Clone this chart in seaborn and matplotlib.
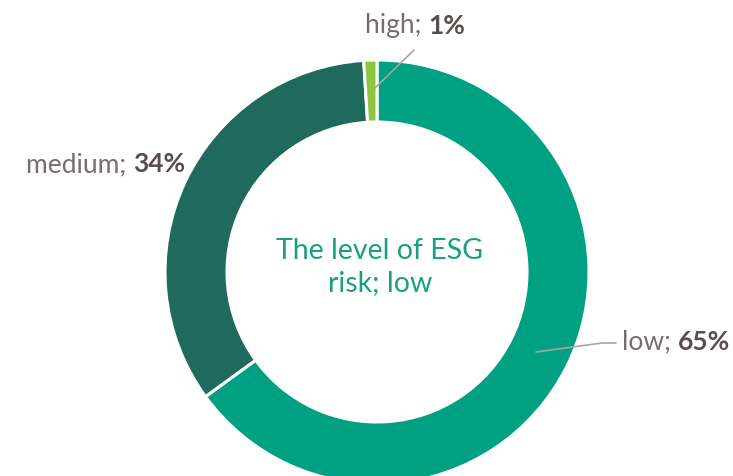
import matplotlib
matplotlib.use("Agg")
import matplotlib.pyplot as plt
import seaborn as sns
from matplotlib.offsetbox import TextArea, HPacker, AnnotationBbox

# ESG risk distribution
categories = ["low", "medium", "high"]
shares = [65, 34, 1]
colors = ["#00a082", "#1f6a5c", "#8cc63e"]
center_label = "The level of ESG\nrisk; low"

sns.set_theme(style="white")
plt.rcParams["font.family"] = ["Lato", "DejaVu Sans"]

W, H = 733, 476
fig = plt.figure(figsize=(W / 100, H / 100), dpi=100)
ax = fig.add_axes([0, 0, 1, 1])

cx, cy, r_out, width = 377, H - 272, 212, 62
ax.pie(
    shares,
    colors=colors,
    startangle=90,
    counterclock=False,
    center=(cx, cy),
    radius=r_out,
    wedgeprops=dict(width=width, edgecolor="white", linewidth=2.2),
    frame=True,
)
ax.set_xlim(0, W)
ax.set_ylim(0, H)
ax.set_aspect("equal")
ax.axis("off")

grey = "#776d6d"
dark = "#594e4e"
line_c = "#aaa4a4"
fs = 19


def boxed(x, y, name, pct, halign=0):
    a = TextArea(f"{name}; ", textprops=dict(color=grey, fontsize=fs))
    b = TextArea(f"{pct}%", textprops=dict(color=dark, fontsize=fs, fontweight="bold"))
    pk = HPacker(children=[a, b], align="baseline", pad=0, sep=0)
    ab = AnnotationBbox(pk, (x, y), xycoords="data", box_alignment=(halign, 0.5),
                        frameon=False, pad=0)
    ax.add_artist(ab)


boxed(365, H - 26, categories[2], shares[2])
boxed(26, H - 165, categories[1], shares[1])
boxed(730, H - 342, categories[0], shares[0], halign=1)

# leader lines
ax.plot([375, 414], [H - 88, H - 50], color=line_c, lw=1.2)
ax.plot([536, 602, 616], [H - 352, H - 343, H - 343], color=line_c, lw=1.2)

ax.text(cx + 3, H - 267, center_label, ha="center", va="center", fontsize=20.5,
        color="#1aa080", linespacing=1.3)

fig.savefig("out.png", dpi=100)
